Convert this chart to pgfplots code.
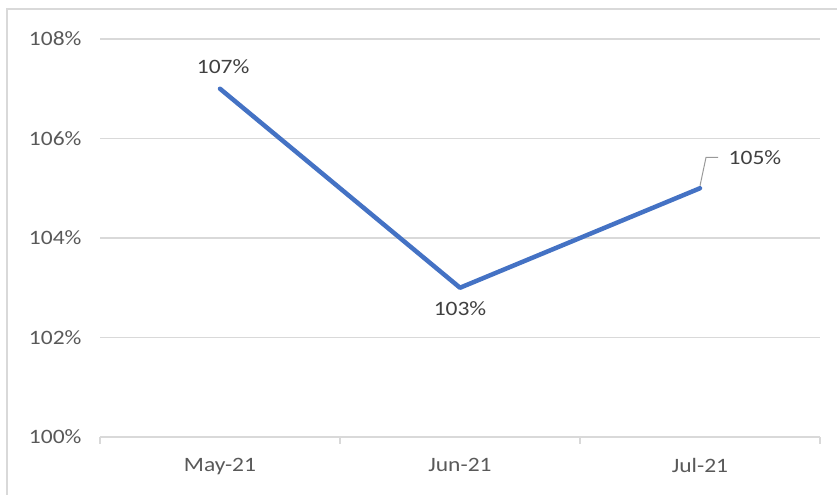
\documentclass[border=0pt]{standalone}
\usepackage{pgfplots}
\pgfplotsset{compat=1.18}
\usepackage{fontspec}
\setmainfont{Carlito}[FakeStretch=1.15]
\definecolor{lineblue}{HTML}{4472C4}
\definecolor{gridgray}{HTML}{D9D9D9}
\definecolor{txtgray}{HTML}{595959}
\definecolor{labgray}{HTML}{404040}
\begin{document}
\begin{tikzpicture}[x=1bp,y=1bp]
\useasboundingbox (0,0) rectangle (837,495);
\draw[color=gridgray, line width=1.2bp] (7,0) -- (7,486) -- (837,486);
\begin{axis}[
  at={(100bp,58bp)}, anchor=south west,
  scale only axis, width=720bp, height=398bp,
  xmin=-0.5, xmax=2.5, ymin=100, ymax=108,
  xtick={0,1,2}, xticklabels={May-21,Jun-21,Jul-21},
  minor xtick={-0.5,0.5,1.5,2.5},
  ytick={100,102,104,106,108},
  yticklabel={\pgfmathprintnumber{\tick}\%},
  /pgf/number format/assume math mode=true,
  axis line style={draw=none},
  axis x line*=bottom,
  axis y line*=left,
  ymajorgrids, grid style={color=gridgray, line width=1.3bp},
  major tick length=0pt,
  minor tick length=7bp,
  tick align=outside,
  every minor tick/.append style={color=gridgray, line width=1.3bp},
  tick label style={font=\fontsize{20.5}{24}\selectfont, color=txtgray},
  xticklabel style={yshift=-18bp},
  yticklabel style={xshift=-15bp},
  clip=false,
]
\addplot[draw=gridgray, line width=1.3bp, forget plot] coordinates {(-0.5,100) (2.5,100)};
\addplot[color=lineblue, line width=4.5bp, line join=round, line cap=round, mark=none]
  coordinates {(0,107) (1,103) (2,105)};
\node[font=\fontsize{20.5}{24}\selectfont, color=labgray] at (axis cs:0.013,107.45) {107\%};
\node[font=\fontsize{20.5}{24}\selectfont, color=labgray] at (axis cs:1,102.58) {103\%};
\draw[color=gray!80, line width=1bp] (axis cs:2,105.05) -- (axis cs:2.025,105.62) -- (axis cs:2.075,105.62);
\node[font=\fontsize{20.5}{24}\selectfont, color=labgray, anchor=west] at (axis cs:2.105,105.62) {105\%};
\end{axis}
\end{tikzpicture}
\end{document}
